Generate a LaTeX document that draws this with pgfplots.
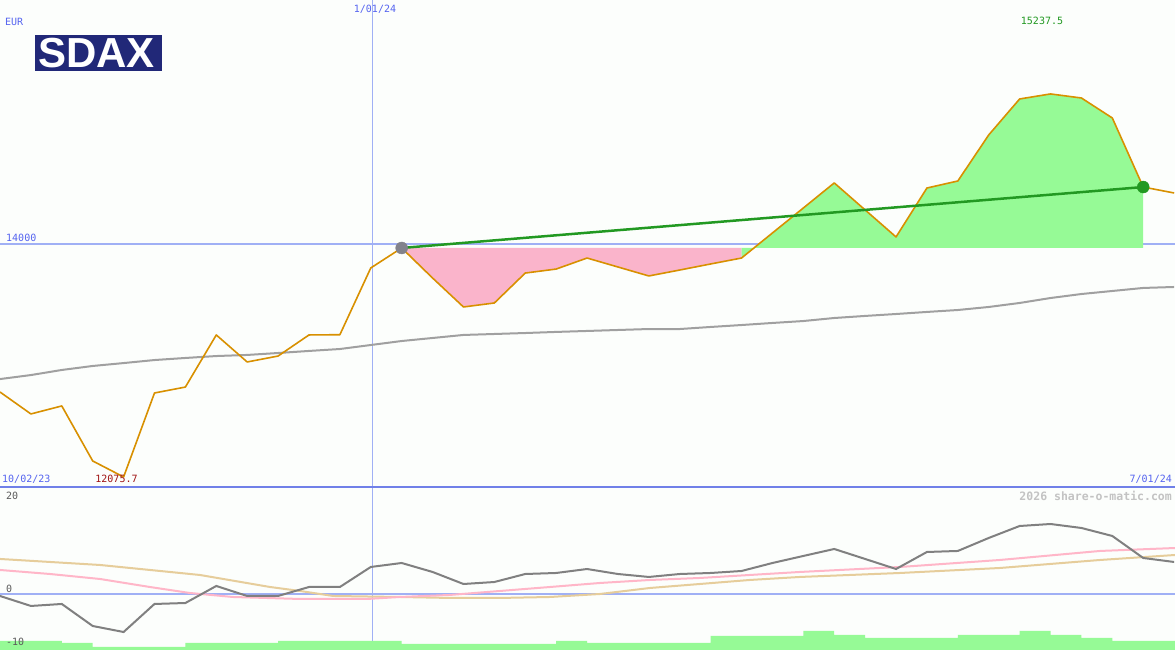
\documentclass[border=0pt]{standalone}
\usepackage{pgfplots}
\pgfplotsset{compat=1.18}
\usepackage{fontspec}
\newfontfamily\monofont{DejaVu Sans Mono}
\newfontfamily\logofont{Liberation Sans}
\definecolor{bg}{RGB}{252,254,252}
\definecolor{orangeline}{RGB}{216,144,0}
\definecolor{trend}{RGB}{34,153,34}
\definecolor{pinkfill}{RGB}{250,180,203}
\definecolor{greenfill}{RGB}{150,250,150}
\definecolor{magray}{RGB}{160,160,160}
\definecolor{gridblue}{RGB}{160,176,245}
\definecolor{sepblue}{RGB}{112,128,232}
\definecolor{labelblue}{RGB}{85,100,240}
\definecolor{darkred}{RGB}{160,20,20}
\definecolor{navy}{RGB}{33,40,120}
\definecolor{momgray}{RGB}{128,128,128}
\definecolor{pinkline}{RGB}{255,182,200}
\definecolor{tanline}{RGB}{230,205,155}
\definecolor{volgreen}{RGB}{150,250,150}
\definecolor{circgray}{RGB}{130,130,140}
\definecolor{wmgray}{RGB}{195,195,195}
\definecolor{numgray}{RGB}{90,90,90}

\pgfplotstableread{
i v
0 12777
1 12596
2 12662
3 12208
4 12075.7
5 12769
6 12818
7 13248
8 13025
9 13074
10 13248
11 13250
12 13801
13 13966
14 13718
15 13479
16 13512
17 13759
18 13792
19 13883
20 13809
21 13735
22 13784
23 13834
24 13883
25 14090
26 14296
27 14503
28 14280
29 14057
30 14461
31 14519
32 14899
33 15196
34 15237.5
35 15204
36 15039
37 14469
38 14420
}\price

\pgfplotstableread{
i v
0 12884
1 12917
2 12959
3 12992
4 13016
5 13041
6 13058
7 13074
8 13083
9 13099
10 13116
11 13132
12 13165
13 13198
14 13223
15 13248
16 13256
17 13264
18 13273
19 13281
20 13289
21 13297
22 13297
23 13314
24 13330
25 13347
26 13363
27 13388
28 13405
29 13421
30 13438
31 13454
32 13479
33 13512
34 13553
35 13586
36 13611
37 13636
38 13644
}\mavg

\pgfplotstableread{
i v
0 -0.41
1 -2.47
2 -2.06
3 -6.60
4 -7.84
5 -2.06
6 -1.86
7 1.65
8 -0.41
9 -0.41
10 1.44
11 1.44
12 5.57
13 6.39
14 4.54
15 2.06
16 2.47
17 4.12
18 4.33
19 5.15
20 4.12
21 3.51
22 4.12
23 4.33
24 4.74
25 6.39
26 7.84
27 9.28
28 7.22
29 5.15
30 8.66
31 8.87
32 11.55
33 14.02
34 14.43
35 13.61
36 11.96
37 7.42
38 6.60
}\mom

\begin{document}
\begin{tikzpicture}[x=1pt,y=1pt]
\useasboundingbox (0,0) rectangle (1175,650);
\fill[bg] (0,0) rectangle (1175,650);
\draw[gridblue, line width=1pt] (372,0) -- (372,650);

\begin{axis}[at={(0pt,163pt)}, anchor=south west, scale only axis,
  width=1175pt, height=487pt, xmin=0, xmax=38.03, ymin=11993, ymax=16013,
  hide axis]
\addplot[gridblue, line width=2pt, no markers] coordinates {(0,14000) (38.03,14000)};
\addplot[fill=pinkfill, draw=none, no markers] coordinates {
(13,13966) (14,13718) (15,13479) (16,13512) (17,13759) (18,13792) (19,13883)
(20,13809) (21,13735) (22,13784) (23,13834) (24,13883) (24,13966)};
\addplot[fill=greenfill, draw=none, no markers] coordinates {
(24,13966) (24,13883) (25,14090) (26,14296) (27,14503) (28,14280) (29,14057)
(30,14461) (31,14519) (32,14899) (33,15196) (34,15237.5) (35,15204) (36,15039)
(37,14469) (37,13966)};
\addplot[magray, line width=2pt, no markers] table[x=i,y=v] {\mavg};
\addplot[orangeline, line width=1.6pt, no markers, line join=round] table[x=i,y=v] {\price};
\addplot[trend, line width=2.5pt, no markers] coordinates {(13,13966) (37,14469)};
\addplot[only marks, mark=*, mark size=6pt, circgray, mark options={draw=circgray, fill=circgray}] coordinates {(13,13966)};
\addplot[only marks, mark=*, mark size=6pt, trend, mark options={draw=trend, fill=trend}] coordinates {(37,14469)};
\end{axis}

\begin{axis}[at={(0pt,0pt)}, anchor=south west, scale only axis,
  width=1175pt, height=163pt, xmin=0, xmax=38.03, ymin=-11.55, ymax=22.06,
  hide axis]
\addplot[gridblue, line width=2pt, no markers] coordinates {(0,0) (38.03,0)};
\addplot[const plot, fill=volgreen, draw=none, no markers] coordinates {
(0,-11.6) (0,-9.69) (1,-9.69) (2,-10.10) (3,-10.93) (4,-10.93) (5,-10.93)
(6,-10.10) (7,-10.10) (8,-10.10) (9,-9.69) (10,-9.69) (11,-9.69) (12,-9.69)
(13,-10.31) (14,-10.31) (15,-10.31) (16,-10.31) (17,-10.31) (18,-9.69)
(19,-10.10) (20,-10.10) (21,-10.10) (22,-10.10) (23,-8.66) (24,-8.66) (25,-8.66)
(26,-7.63) (27,-8.45) (28,-9.07) (29,-9.07) (30,-9.07) (31,-8.45) (32,-8.45)
(33,-7.63) (34,-8.45) (35,-9.07) (36,-9.69) (37,-9.69) (38.03,-9.69) (38.03,-11.6)};
\addplot[tanline, line width=2pt, no markers] coordinates {
(0,7.22) (3.24,5.98) (6.47,3.92) (8.74,1.44) (9.71,0.62) (10.78,-0.41)
(12.94,-0.62) (14.56,-0.82) (16.18,-0.82) (17.80,-0.62) (19.42,0) (21.04,1.24)
(22.65,2.06) (24.27,2.89) (25.89,3.51) (29.13,4.33) (32.36,5.36) (35.60,7.01) (38.03,8.04)};
\addplot[pinkline, line width=2pt, no markers] coordinates {
(0,4.95) (1.62,4.12) (3.24,3.09) (4.85,1.44) (6.15,0.2) (7.54,-0.62) (9.71,-1.03)
(11.88,-1.03) (12.94,-0.62) (14.56,-0.2) (16.18,0.62) (17.80,1.44) (19.42,2.27)
(21.04,2.89) (22.65,3.30) (24.27,3.92) (25.89,4.54) (29.13,5.57) (32.36,7.01)
(35.60,8.87) (38.03,9.48)};
\addplot[momgray, line width=2pt, no markers] table[x=i,y=v] {\mom};
\end{axis}

\draw[sepblue, line width=2.5pt] (0,163) -- (1175,163);

% logo
\fill[navy] (35,579) rectangle (162,615);
\node[anchor=base west, inner sep=0pt, text=white,
  font=\logofont\bfseries\fontsize{42}{42}\selectfont] at (38,582) {SDAX};

\begin{scope}[every node/.style={inner sep=0pt, font=\monofont\fontsize{10}{12}\selectfont}]
\node[anchor=west, text=labelblue] at (5,628.5) {EUR};
\node[text=labelblue] at (375,641) {1/01/24};
\node[text=trend] at (1042,629) {15237.5};
\node[anchor=west, text=labelblue] at (6,412) {14000};
\node[anchor=west, text=labelblue] at (2,171) {10/02/23};
\node[text=darkred] at (116.5,171) {12075.7};
\node[anchor=east, text=labelblue] at (1172,171) {7/01/24};
\node[anchor=west, text=numgray] at (6,154) {20};
\node[anchor=west, text=numgray] at (6,61) {0};
\node[anchor=west, text=numgray] at (6,8) {-10};
\node[anchor=east, text=wmgray, font=\monofont\bfseries\fontsize{11.5}{13}\selectfont] at (1172,154) {2026 share-o-matic.com};
\end{scope}
\end{tikzpicture}
\end{document}
